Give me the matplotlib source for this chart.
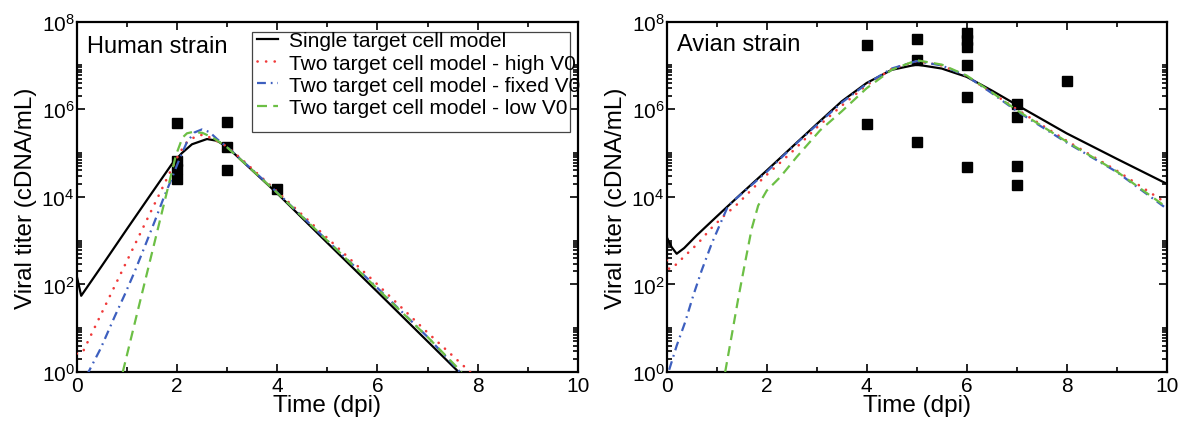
import numpy as np
import matplotlib
matplotlib.use("Agg")
import matplotlib.pyplot as plt
from matplotlib.patches import Rectangle
from matplotlib.ticker import FixedLocator, NullFormatter

plt.rcParams['font.family'] = ['Liberation Sans', 'DejaVu Sans']
plt.rcParams['mathtext.fontset'] = 'custom'
plt.rcParams['mathtext.rm'] = 'Liberation Sans'
plt.rcParams['mathtext.default'] = 'regular'

# ---- observed titers (cDNA/mL) ----
human_t = [2, 2, 2, 2, 3, 3, 3, 4]
human_v = [4.9e5, 6.5e4, 4.4e4, 2.6e4, 5.2e5, 1.38e5, 4.0e4, 1.48e4]

avian_t = [4, 4, 5, 5, 5, 6, 6, 6, 6, 6, 6, 7, 7, 7, 7, 8]
avian_v = [2.96e7, 4.7e5, 3.95e7, 1.3e7, 1.78e5, 5.5e7, 3.8e7, 2.7e7,
           1.05e7, 1.95e6, 4.9e4, 1.34e6, 6.6e5, 5.0e4, 1.9e4, 4.4e6]

# ---- model fits, log10 titer vs dpi ----
# human strain
hu_single_t = [0, 0.09, 0.5, 1.0, 1.5, 1.9, 2.1, 2.3, 2.6, 2.8, 3.0, 3.3, 4.0, 5.0, 6.0, 7.0, 7.62]
hu_single_lv = [2.2, 1.74, 2.42, 3.26, 4.09, 4.75, 5.0, 5.2, 5.32, 5.28, 5.14, 4.82, 4.08, 2.95, 1.83, 0.7, 0.0]

hu_high_t = [0, 0.12, 0.5, 1.0, 1.5, 1.9, 2.05, 2.2, 2.4, 2.55, 2.75, 3.0, 3.3, 4.0, 5.0, 6.0, 7.0, 7.85]
hu_high_lv = [0.42, 0.45, 1.35, 2.53, 3.71, 4.65, 5.0, 5.25, 5.4, 5.42, 5.3, 5.15, 4.85, 4.12, 3.06, 2.0, 0.9, 0.0]

hu_fixed_t = [0.2, 0.48, 0.76, 0.96, 1.16, 1.36, 1.56, 1.75, 1.89, 2.05, 2.2, 2.35, 2.5, 2.65, 2.8,
              3.0, 3.3, 4.0, 5.0, 6.0, 7.0, 7.65]
hu_fixed_lv = [-0.08, 0.54, 1.27, 1.77, 2.3, 2.87, 3.45, 4.02, 4.4, 4.86, 5.25, 5.47, 5.54, 5.48, 5.32,
               5.14, 4.83, 4.1, 3.0, 1.92, 0.8, 0.0]

hu_low_t = [0.92, 1.2, 1.5, 1.8, 1.98, 2.11, 2.2, 2.31, 2.51, 2.7, 2.85, 3.0, 3.3, 4.0, 5.0, 6.0, 7.0, 7.68]
hu_low_lv = [0.0, 1.31, 2.71, 4.11, 4.95, 5.35, 5.45, 5.48, 5.46, 5.36, 5.25, 5.13, 4.82, 4.09, 3.0, 1.9, 0.8, 0.0]

# avian strain
av_single_t = [0, 0.1, 0.2, 0.35, 0.6, 1.0, 1.5, 2.0, 2.5, 3.0, 3.5, 4.0, 4.5, 5.0, 5.5, 6.0, 6.5,
               7.0, 8.0, 9.0, 10.0]
av_single_lv = [3.08, 2.85, 2.7, 2.83, 3.12, 3.55, 4.08, 4.6, 5.13, 5.66, 6.18, 6.6, 6.9, 7.02, 6.93,
                6.74, 6.43, 6.1, 5.45, 4.87, 4.3]

av_high_t = [0, 0.05, 0.12, 0.38, 0.62, 0.88, 1.15, 1.42, 1.68, 1.95, 2.28, 2.5, 3.0, 3.5, 4.0, 4.5,
             5.0, 5.5, 6.0, 6.5, 7.0, 8.0, 9.0, 10.0]
av_high_lv = [2.55, 2.35, 2.38, 2.67, 2.93, 3.27, 3.57, 3.84, 4.14, 4.45, 4.79, 5.02, 5.58, 6.08, 6.55,
              6.92, 7.1, 7.0, 6.76, 6.38, 6.0, 5.28, 4.6, 3.85]

av_fixed_t = [0.05, 0.2, 0.37, 0.53, 0.7, 0.9, 1.07, 1.23, 1.4, 1.7, 2.0, 2.5, 3.0, 3.5, 4.0, 4.5,
              5.0, 5.5, 6.0, 6.5, 7.0, 8.0, 9.0, 10.0]
av_fixed_lv = [0.05, 0.6, 1.14, 1.74, 2.32, 2.93, 3.38, 3.8, 3.97, 4.27, 4.57, 5.12, 5.64, 6.15, 6.58,
               6.93, 7.1, 7.0, 6.76, 6.37, 5.96, 5.24, 4.57, 3.73]

av_low_t = [1.17, 1.3, 1.43, 1.57, 1.7, 1.83, 2.0, 2.27, 2.6, 3.07, 3.5, 4.0, 4.5, 5.0, 5.5, 6.0, 6.5,
            7.0, 8.0, 9.0, 10.0]
av_low_lv = [0.0, 0.83, 1.67, 2.51, 3.27, 3.8, 4.14, 4.45, 4.91, 5.52, 5.95, 6.48, 6.9, 7.12, 7.02,
             6.77, 6.39, 5.98, 5.26, 4.58, 3.76]

labels = ["Single target cell model",
          "Two target cell model - high V0",
          "Two target cell model - fixed V0",
          "Two target cell model - low V0"]

RED = "#f03a3a"
BLUE = "#3d5fbf"
GREEN = "#6cbf45"

fig = plt.figure(figsize=(11.85, 4.27), dpi=100)
ax1 = fig.add_axes([0.0647, 0.1265, 0.4230, 0.8204])
ax2 = fig.add_axes([0.5626, 0.1265, 0.4219, 0.8204])


def draw_panel(ax, pts_t, pts_v, curves, name, name_y):
    ax.plot(pts_t, pts_v, "s", color="black", ms=6.8, zorder=2)
    styles = [
        dict(color="black", lw=1.6, ls="-"),
        dict(color=RED, lw=1.9, ls=(0, (0.05, 3.2)), dash_capstyle="round"),
        dict(color=BLUE, lw=1.6, ls=(0, (4, 2.2, 0.8, 2.2))),
        dict(color=GREEN, lw=1.6, ls=(0, (4.5, 2.8))),
    ]
    handles = []
    for (t, lv), st, lab in zip(curves, styles, labels):
        h, = ax.plot(t, 10.0 ** np.asarray(lv), label=lab, zorder=3, **st)
        handles.append(h)
    ax.set_yscale("log")
    ax.set_xlim(0, 10)
    ax.set_ylim(1, 1e8)
    ax.set_xticks([0, 2, 4, 6, 8, 10])
    ax.xaxis.set_minor_locator(FixedLocator([1, 3, 5, 7, 9]))
    ax.set_yticks([1, 1e2, 1e4, 1e6, 1e8])
    ax.yaxis.set_minor_locator(FixedLocator([k * 10.0 ** e for e in (0, 2, 4, 6) for k in range(2, 11)]))
    ax.yaxis.set_minor_formatter(NullFormatter())
    ax.tick_params(which="both", direction="in", top=True, right=True, width=1.2, labelsize=15)
    ax.tick_params(which="major", length=6)
    ax.tick_params(which="minor", length=3.6)
    ax.tick_params(axis="x", pad=3)
    ax.tick_params(axis="y", pad=1.5)
    for sp in ax.spines.values():
        sp.set_linewidth(1.6)
    ax.set_xlabel("Time (dpi)", fontsize=17.5, labelpad=-1)
    ax.set_ylabel("Viral titer (cDNA/mL)", fontsize=17.5, labelpad=3)
    ax.text(0.0205, name_y, name, transform=ax.transAxes, fontsize=17, va="baseline", ha="left")
    return handles


hs = draw_panel(ax1, human_t, human_v,
                [(hu_single_t, hu_single_lv), (hu_high_t, hu_high_lv),
                 (hu_fixed_t, hu_fixed_lv), (hu_low_t, hu_low_lv)],
                "Human strain", 0.913)
draw_panel(ax2, avian_t, avian_v,
           [(av_single_t, av_single_lv), (av_high_t, av_high_lv),
            (av_fixed_t, av_fixed_lv), (av_low_t, av_low_lv)],
           "Avian strain", 0.919)

# legend in the human panel, text runs past its box like the original graph
ax1.add_patch(Rectangle((0.349, 0.684), 0.635, 0.286, transform=ax1.transAxes,
                        fill=False, edgecolor="#444444", lw=0.9, zorder=4))
ax1.legend(handles=hs, loc="upper left", bbox_to_anchor=(0.359, 0.972), borderaxespad=0,
           borderpad=0, frameon=False, fontsize=15, handlelength=1.04, handletextpad=0.5,
           labelspacing=0.15)

fig.savefig("out.png", dpi=100)
